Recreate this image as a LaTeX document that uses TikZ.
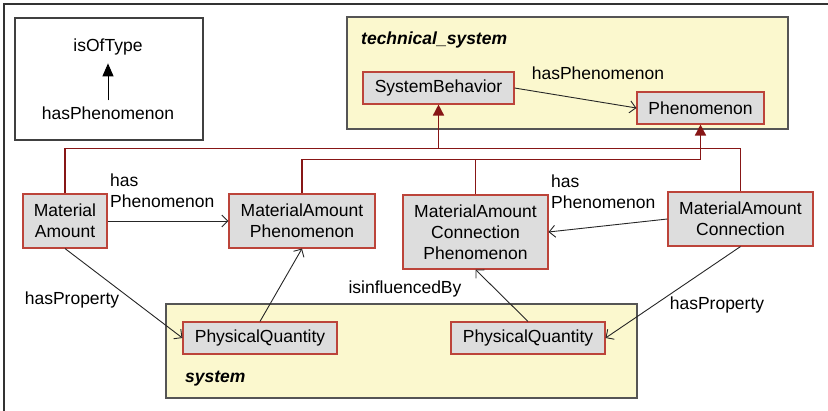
\documentclass[tikz,border=0pt]{standalone}
\usepackage{fontspec}
\setmainfont{Liberation Sans}
\usetikzlibrary{arrows.meta,calc}
\definecolor{nodefill}{RGB}{221,221,221}
\definecolor{nodeborder}{RGB}{188,68,58}
\definecolor{inhred}{RGB}{135,22,22}
\definecolor{contfill}{RGB}{251,248,206}
\definecolor{contborder}{RGB}{85,85,85}
\begin{document}
\begin{tikzpicture}[x=1pt,y=-1pt,
  every node/.style={font=\fontsize{17.5}{21}\selectfont, inner sep=0pt},
  cls/.style={draw=nodeborder, fill=nodefill, line width=1.1pt, align=center},
  cont/.style={draw=contborder, fill=contfill, line width=1.2pt},
  inh/.style={draw=inhred, line width=1.5pt},
  inharrow/.style={inh, -{Triangle[length=11pt,width=11pt]}},
  assoc/.style={draw=black!85, line width=0.9pt, -{Straight Barb[length=6pt,width=12pt]}},
  lbl/.style={align=left},
  ctitle/.style={font=\fontsize{17.5}{21}\selectfont\bfseries\itshape, anchor=west}
]
\useasboundingbox (0,0) rectangle (828,411);
% outer frame lines
\draw[black!80, line width=1.4pt] (4,411) -- (4,4) -- (828,4);
% legend
\draw[black!75, line width=1.3pt] (15,18) rectangle (203,140);
\node (iot) at (108,47) {isOfType};
\node (hp) at (108,113) {hasPhenomenon};
\draw[line width=1pt, -{Triangle[length=13pt,width=11pt]}, shorten <=6pt, shorten >=8pt] (hp.north) -- (iot.south);
% containers
\draw[cont] (347,17) rectangle (788,129);
\draw[cont] (166,304) rectangle (637,398);
\node[ctitle] (tst) at (361,40) {technical\_system};
\node[ctitle] (syst) at (185,379) {system};
% class nodes
\node[cls, minimum width=151pt, minimum height=32pt] (SB) at (438.5,88) {SystemBehavior};
\node[cls, minimum width=127pt, minimum height=32pt] (Ph) at (700.5,108) {Phenomenon};
\node[cls, minimum width=84pt, minimum height=54pt] (MA) at (65,221) {Material\\Amount};
\node[cls, minimum width=146pt, minimum height=54pt] (MAP) at (302,221) {MaterialAmount\\Phenomenon};
\node[cls, minimum width=145pt, minimum height=74pt] (MACP) at (475.5,232) {MaterialAmount\\Connection\\Phenomenon};
\node[cls, minimum width=145pt, minimum height=54pt] (MAC) at (740.5,219) {MaterialAmount\\Connection};
\node[cls, minimum width=154pt, minimum height=32pt] (PQ1) at (260,338) {PhysicalQuantity};
\node[cls, minimum width=154pt, minimum height=32pt] (PQ2) at (528,338) {PhysicalQuantity};
% inheritance
\coordinate (j1) at ($(SB.south)+(0,44)$);
\coordinate (j2) at ($(Ph.south)+(0,35)$);
\draw[inh] (MA.north) |- (j1) -| (MAC.north);
\draw[inharrow] (j1) -- (SB.south);
\draw[inh] (MAP.north) |- (j2);
\draw[inh] (MACP.north) -- (MACP.north |- j2);
\draw[inharrow] (j2) -- (Ph.south);
% associations
\draw[assoc] (SB.east) -- (Ph.west);
\draw[assoc] (MA.east) -- (MAP.west);
\draw[assoc] (MAC.west) -- (MACP.east);
\draw[assoc] (MA.south) -- (PQ1.west);
\draw[assoc] (PQ1.north) -- (MAP.south);
\draw[assoc] (PQ2.north) -- (MACP.south);
\draw[assoc] (MAC.south) -- (PQ2.east);
% labels
\node (l1) at (598,73) {hasPhenomenon};
\node[lbl, anchor=west] (l2) at (110,191) {has\\Phenomenon};
\node[lbl, anchor=west] (l3) at (551,192) {has\\Phenomenon};
\node (l4) at (72,300) {hasProperty};
\node (l5) at (717,305) {hasProperty};
\node (l6) at (405,289) {isinfluencedBy};
\end{tikzpicture}
\end{document}
